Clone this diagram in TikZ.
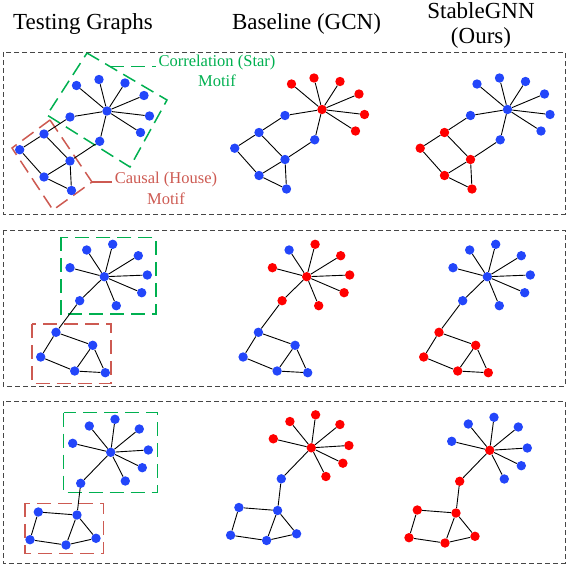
\documentclass[tikz,border=0pt]{standalone}
\usepackage{fontspec}
\setmainfont{Liberation Serif}
\newfontfamily\tnr{Liberation Serif}
\definecolor{nblue}{RGB}{35,70,250}
\definecolor{nred}{RGB}{255,0,0}
\definecolor{mgreen}{RGB}{0,176,80}
\definecolor{mred}{RGB}{205,90,82}
\definecolor{boxgray}{RGB}{70,70,70}
\tikzset{
  dot/.style={circle,inner sep=0pt,minimum size=9.4pt,draw=none},
  edge/.style={draw=black,line width=0.9pt},
  rowbox/.style={draw=boxgray,line width=1pt,dash pattern=on 5pt off 3pt},
  gmotif/.style={draw=mgreen,line width=1.5pt,dash pattern=on 14pt off 7pt},
  rmotif/.style={draw=mred,line width=1.5pt,dash pattern=on 14pt off 7pt},
  head/.style={inner sep=0pt,anchor=base,font=\tnr\fontsize{23}{27}\selectfont},
  glab/.style={inner sep=0pt,anchor=base,text=mgreen,font=\tnr\fontsize{16.5}{20}\selectfont},
  rlab/.style={inner sep=0pt,anchor=base,text=mred,font=\tnr\fontsize{16.5}{20}\selectfont}
}
% row 1 graph: #1 prefix, #2 centre, #3 leaves, #4 connectors, #5 house
\newcommand\grone[5]{%
  \node[dot,fill=#2] (#1c) at (107,111) {};
  \foreach \n/\x/\y in {l1/76.5/85.5,l2/99/79.5,l3/125/83,l4/144/95.5,l5/149.5/116,l6/140.5/132.5}{
    \node[dot,fill=#3] (#1\n) at (\x,\y) {};
    \draw[edge] (#1c) -- (#1\n);}
  \node[dot,fill=#4] (#1a) at (70,117) {};
  \node[dot,fill=#4] (#1b) at (99.7,141.3) {};
  \node[dot,fill=#5] (#1h1) at (44,134) {};
  \node[dot,fill=#5] (#1h2) at (19.7,149.7) {};
  \node[dot,fill=#5] (#1h3) at (70,161) {};
  \node[dot,fill=#5] (#1h4) at (44,177) {};
  \node[dot,fill=#5] (#1h5) at (71.5,190.5) {};
  \draw[edge] (#1c)--(#1a) (#1c)--(#1b) (#1a)--(#1h1) (#1b)--(#1h3)
    (#1h1)--(#1h2) (#1h1)--(#1h3) (#1h2)--(#1h4) (#1h3)--(#1h4)
    (#1h4)--(#1h5) (#1h3)--(#1h5);
}
% row 2 graph: #1 prefix, #2 centre, #3 leaves, #4 first leaf, #5 connector, #6 house
\newcommand\grtwo[6]{%
  \node[dot,fill=#2] (#1c) at (104.3,276.7) {};
  \node[dot,fill=#4] (#1m1) at (86.7,250) {};
  \draw[edge] (#1c) -- (#1m1);
  \foreach \n/\x/\y in {m2/112.7/244.3,m3/138.3/255.7,m4/147.3/275,m5/141.7/292.7,m6/116.3/305.7,m7/70/267.7}{
    \node[dot,fill=#3] (#1\n) at (\x,\y) {};
    \draw[edge] (#1c) -- (#1\n);}
  \node[dot,fill=#5] (#1a) at (79.7,300.7) {};
  \node[dot,fill=#6] (#1h1) at (56,332.3) {};
  \node[dot,fill=#6] (#1h2) at (40.7,357) {};
  \node[dot,fill=#6] (#1h3) at (92.7,345.3) {};
  \node[dot,fill=#6] (#1h4) at (74.7,371) {};
  \node[dot,fill=#6] (#1h5) at (105.3,372.7) {};
  \draw[edge] (#1c)--(#1a) (#1a)--(#1h1) (#1h1)--(#1h2) (#1h1)--(#1h3)
    (#1h2)--(#1h4) (#1h3)--(#1h4) (#1h3)--(#1h5) (#1h4)--(#1h5);
}
% row 3 graph: #1 prefix, #2 centre, #3 leaves, #4 connector, #5 house
\newcommand\grthree[5]{%
  \node[dot,fill=#2] (#1c) at (110.7,452.3) {};
  \foreach \n/\x/\y in {n1/89.3/426,n2/115/419.3,n3/139.3/429,n4/148.3/450,n5/142.3/467.7,n6/125.3/481,n7/72.7/443.3}{
    \node[dot,fill=#3] (#1\n) at (\x,\y) {};
    \draw[edge] (#1c) -- (#1\n);}
  \node[dot,fill=#4] (#1a) at (80.7,483.3) {};
  \node[dot,fill=#5] (#1p1) at (38.3,512) {};
  \node[dot,fill=#5] (#1p2) at (77,515) {};
  \node[dot,fill=#5] (#1p3) at (30,539.7) {};
  \node[dot,fill=#5] (#1p4) at (66,545) {};
  \node[dot,fill=#5] (#1p5) at (96,538.3) {};
  \draw[edge] (#1c)--(#1a) (#1a)--(#1p2) (#1p1)--(#1p2) (#1p1)--(#1p3)
    (#1p3)--(#1p4) (#1p2)--(#1p4) (#1p2)--(#1p5) (#1p4)--(#1p5);
}
\begin{document}
\begin{tikzpicture}[x=1pt,y=-1pt]
\useasboundingbox (0,0) rectangle (568,566);
% row boxes
\draw[rowbox] (3,52) rectangle (565,214);
\draw[rowbox] (3,230) rectangle (565,386);
\draw[rowbox] (3,401) rectangle (565,563);
% headers
\node[head] (h2) at (306.5,29) {Baseline (GCN)};
\node[head] (h3a) at (481,18) {StableGNN};
\node[head] (h3b) at (481,43) {(Ours)};
\node[head] (h1) at (83,29) {Testing Graphs};
% row 1
\coordinate (gTL) at (87,53);
\coordinate (gTR) at (167,100);
\coordinate (gBR) at (130,167);
\coordinate (gBL) at (47,115);
\draw[gmotif] (gTL) -- (gTR) -- (gBR) -- (gBL) -- cycle;
\coordinate (gLead) at (110,66.5);
\coordinate (gLeadEnd) at (156,66.5);
\draw[gmotif] (gLead) -- (gLeadEnd);
\coordinate (rT) at (50,120);
\coordinate (rR) at (92,182);
\coordinate (rB) at (53,210);
\coordinate (rL) at (12,148);
\draw[rmotif] (rT) -- (rR) -- (rB) -- (rL) -- cycle;
\coordinate (rLeadEnd) at (112,182);
\draw[rmotif,solid] (rR) -- (rLeadEnd);
\node[glab] (corr1) at (217,66.5) {Correlation (Star)};
\node[glab] (corr2) at (217,86.5) {Motif};
\node[rlab] (caus1) at (166,183.3) {Causal (House)};
\node[rlab] (caus2) at (166,204.5) {Motif};
\grone{a}{nblue}{nblue}{nblue}{nblue}
\begin{scope}[shift={(215,-1.5)}]
\grone{b}{nred}{nred}{nblue}{nblue}
\end{scope}
\begin{scope}[shift={(400.5,-1.5)}]
\grone{c}{nblue}{nblue}{nblue}{nred}
\end{scope}
% row 2
\draw[gmotif] (61,237.3) rectangle (156,314);
\draw[rmotif] (32,324) rectangle (111,383.3);
\grtwo{d}{nblue}{nblue}{nblue}{nblue}{nblue}
\begin{scope}[shift={(202.4,0)}]
\grtwo{e}{nred}{nred}{nblue}{nred}{nblue}
\end{scope}
\begin{scope}[shift={(383,0)}]
\grtwo{f}{nblue}{nblue}{nblue}{nblue}{nred}
\end{scope}
% row 3
\draw[gmotif] (63.7,412.7) rectangle (157.7,492.7);
\draw[rmotif] (25,503.3) rectangle (103.3,553.3);
\grthree{g}{nblue}{nblue}{nblue}{nblue}
\begin{scope}[shift={(200.6,-4.5)}]
\grthree{h}{nred}{nred}{nblue}{nblue}
\end{scope}
\begin{scope}[shift={(379,-2)}]
\grthree{i}{nred}{nblue}{nred}{nred}
\end{scope}
\end{tikzpicture}
\end{document}
